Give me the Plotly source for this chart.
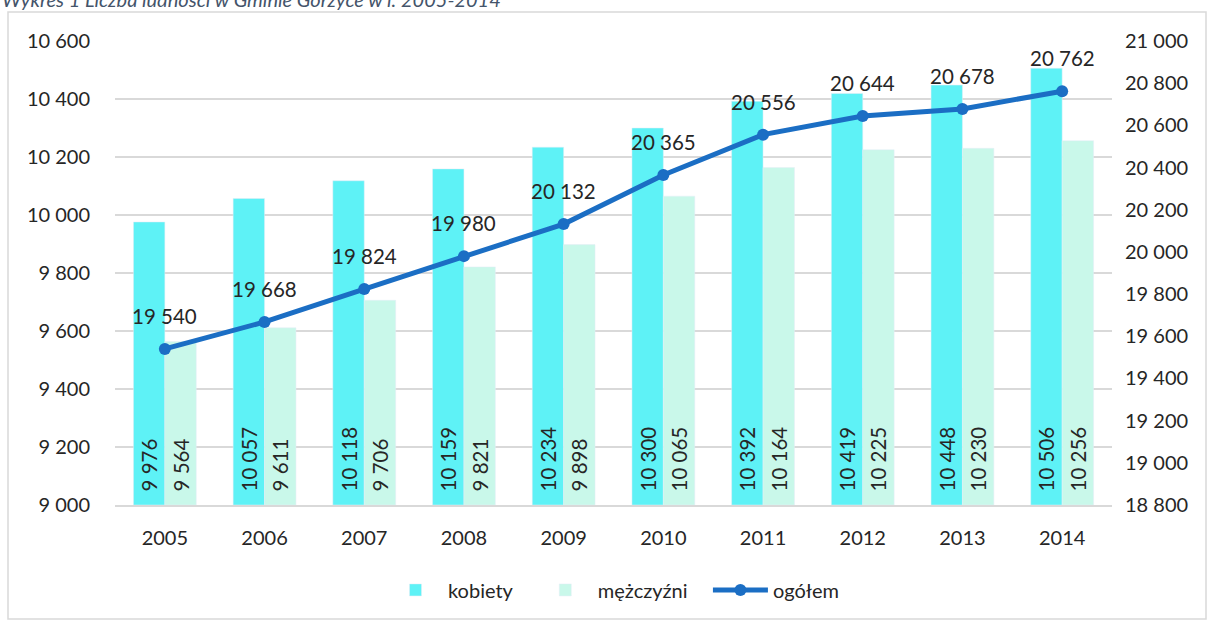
import plotly.graph_objects as go

years = ["2005", "2006", "2007", "2008", "2009", "2010", "2011", "2012", "2013", "2014"]
kobiety = [9976, 10057, 10118, 10159, 10234, 10300, 10392, 10419, 10448, 10506]
mezczyzni = [9564, 9611, 9706, 9821, 9898, 10065, 10164, 10225, 10230, 10256]
ogolem = [19540, 19668, 19824, 19980, 20132, 20365, 20556, 20644, 20678, 20762]

Y_MIN, Y_MAX = 9000, 10600
Y2_MIN, Y2_MAX = 18800, 21000

C_K = "#5ef2f6"
C_M = "#c9f8ea"
C_LINE = "#1b6ec4"
FONT = "Lato, 'Open Sans', sans-serif"
NB = "\u00a0"


def fmt(v):
    return f"{v:,}".replace(",", NB)


def bar_label(v):
    return NB * 2 + fmt(v)


fig = go.Figure()
# bars start at the axis minimum so the "start" labels sit at the visible base
for name, vals, color in [("kobiety", kobiety, C_K), ("mężczyźni", mezczyzni, C_M)]:
    fig.add_trace(go.Bar(
        x=years, y=[v - Y_MIN for v in vals], base=Y_MIN, name=name + NB * 3,
        marker_color=color,
        text=[bar_label(v) for v in vals], textposition="inside",
        insidetextanchor="start", textangle=-90,
        textfont=dict(size=20.5, color="#262626", family=FONT),
    ))
fig.add_trace(go.Scatter(
    x=years, y=ogolem, name="ogółem", yaxis="y2", mode="lines+markers",
    line=dict(color=C_LINE, width=5), marker=dict(size=12, color=C_LINE),
))
# line labels (category index on x, so "2005" is not read as position 2005)
for i, v in enumerate(ogolem):
    fig.add_annotation(x=i, y=v, xref="x", yref="y2", text=fmt(v), showarrow=False,
                       yshift=33, font=dict(size=20.5, color="#262626", family=FONT))

fig.update_layout(
    width=1208, height=621,
    margin=dict(l=115, r=96, t=41, b=116),
    paper_bgcolor="white", plot_bgcolor="white",
    font=dict(family=FONT, size=20, color="#262626"),
    separators=". ",
    barmode="group", bargap=0.37, bargroupgap=0,
    showlegend=True,
    legend=dict(orientation="h", x=0.5, xanchor="center", y=-0.183, yanchor="middle",
                font=dict(size=20), itemwidth=55, traceorder="normal"),
    xaxis=dict(type="category", range=[-0.5, len(years) - 0.5], showgrid=False,
               showline=True, linecolor="#d9d9d9", linewidth=1.5, ticks="",
               ticklabelstandoff=14),
    yaxis=dict(range=[Y_MIN, Y_MAX], dtick=200, tickformat=",", showgrid=True,
               gridcolor="#d9d9d9", gridwidth=1.5, zeroline=False, ticks="",
               ticklabelstandoff=24),
    yaxis2=dict(range=[Y2_MIN, Y2_MAX], dtick=200, tickformat=",", overlaying="y",
                side="right", showgrid=False, zeroline=False, ticks="",
                ticklabelstandoff=12),
)

# frame around the chart and the (cut off) caption above it
fig.add_shape(type="rect", xref="paper", yref="paper",
              x0=(8 - 115) / 997, x1=(1206 - 115) / 997,
              y0=(505 - 619) / 464, y1=(505 - 12) / 464,
              line=dict(color="#d9d9d9", width=1.5), fillcolor="rgba(0,0,0,0)", layer="below")
fig.add_annotation(text="<i>Wykres 1 Liczba ludności w Gminie Gorzyce w l. 2005-2014</i>",
                   xref="paper", yref="paper", x=(0 - 115) / 997, y=(505 + 1) / 464,
                   xanchor="left", yanchor="middle", showarrow=False,
                   font=dict(size=20, color="#44546a", family=FONT))

fig.write_html("out.html", config={"displayModeBar": False},
               post_script="document.body.style.margin='0';")
